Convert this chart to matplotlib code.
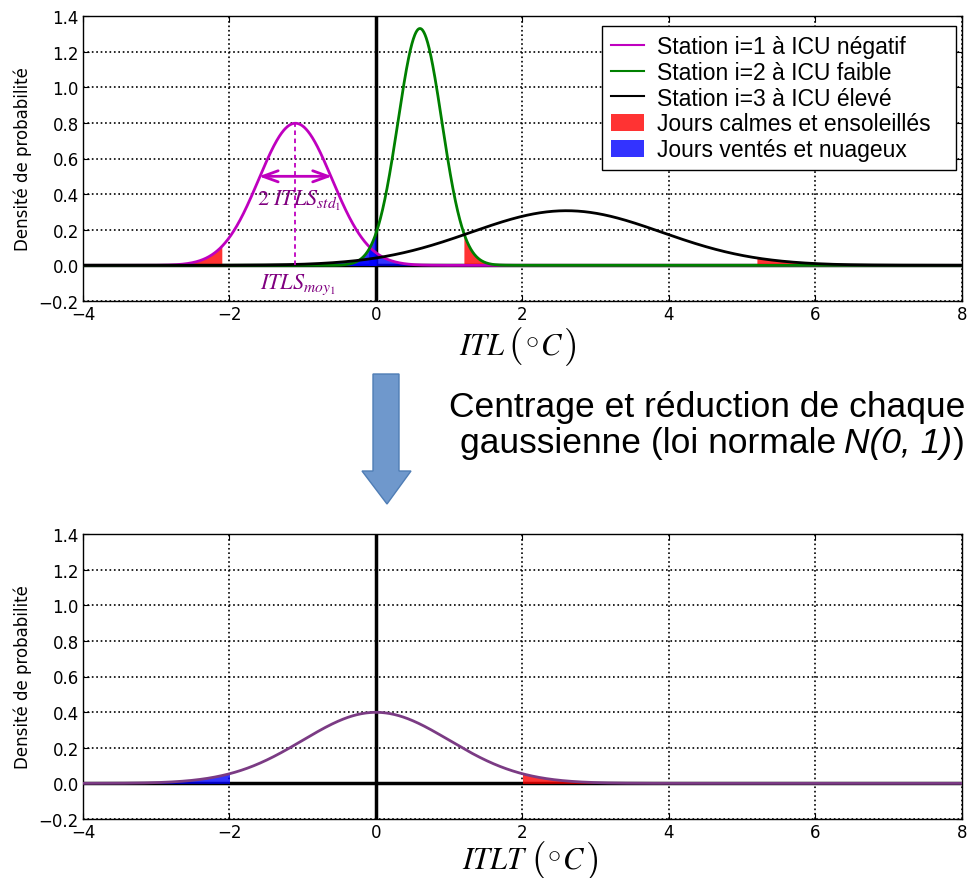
import numpy as np
import matplotlib
matplotlib.use("Agg")
import matplotlib.pyplot as plt
from matplotlib.patches import Polygon, Patch
from matplotlib.lines import Line2D
from matplotlib.font_manager import FontProperties
from matplotlib.transforms import IdentityTransform

# ---- data ----
station_labels = ["Station i=1 à ICU négatif", "Station i=2 à ICU faible", "Station i=3 à ICU élevé"]
station_colors = ["#bf00bf", "#008000", "#000000"]
means = [-1.1, 0.6, 2.6]
stds = [0.5, 0.3, 1.3]
fill_labels = ["Jours calmes et ensoleillés", "Jours ventés et nuageux"]
xticks = [-4, -2, 0, 2, 4, 6, 8]
yticks = [-0.2, 0.0, 0.2, 0.4, 0.6, 0.8, 1.0, 1.2, 1.4]
n_sigma = 2.0

W, H = 970, 879
fig = plt.figure(figsize=(W/100, H/100), dpi=100)
renderer = fig.canvas.get_renderer()

def px(x0, y0, x1, y1):
    return [x0/W, 1-y1/H, (x1-x0)/W, (y1-y0)/H]

def pdf(x, m, s):
    return np.exp(-0.5*((x-m)/s)**2)/(s*np.sqrt(2*np.pi))

def place_pieces(pieces, x0, y_base, align='left'):
    """pieces: list of (text, fontprops, dy_px, gap_before_px). Image pixels, top-left origin."""
    objs, widths = [], []
    for s, fp, dy, gap in pieces:
        t = fig.text(0, 0, s, transform=IdentityTransform(), ha='left', va='baseline',
                     fontproperties=fp)
        objs.append(t)
        widths.append(t.get_window_extent(renderer).width)
    total = sum(widths) + sum(p[3] for p in pieces)
    x = x0 if align == 'left' else x0 - total
    for (s, fp, dy, gap), t, w in zip(pieces, objs, widths):
        x += gap
        t.set_position((x, H - y_base + dy))
        x += w
    return objs

def style(ax):
    ax.set_xlim(-4, 8)
    ax.set_ylim(-0.2, 1.4)
    ax.set_xticks(xticks)
    ax.set_yticks(yticks)
    ax.set_xticklabels([f"{t:d}".replace("-", "\u2212") for t in xticks])
    ax.set_yticklabels([f"{t:.1f}".replace("-", "\u2212") for t in yticks])
    ax.tick_params(direction='in', top=True, right=True, labelsize=12, length=4, pad=3)
    ax.grid(True, linestyle=':', color='black', lw=1.2)
    ax.set_axisbelow(True)
    for sp in ax.spines.values():
        sp.set_color('black'); sp.set_linewidth(1)
    ax.set_ylabel("Densité de probabilité", fontsize=12, labelpad=5)
    ax.axhline(0, color='black', lw=2.5, zorder=2)
    ax.axvline(0, color='black', lw=2.5, zorder=2)

def xlabel_pieces(name, x_left, y_base):
    fp_it = FontProperties(size=22, math_fontfamily='stix')
    fp_par = FontProperties(size=27, math_fontfamily='cm')
    fp_deg = FontProperties(size=19, math_fontfamily='cm')
    place_pieces([
        (f"${name}$", fp_it, 0, 0),
        (r"$($", fp_par, -1, 3),
        (r"$\circ$", fp_deg, 8, 2),
        (r"$C$", fp_it, 0, 1),
        (r"$)$", fp_par, -1, 0),
    ], x_left, y_base)

x = np.linspace(-4, 8, 2401)

# ---- top axes ----
ax1 = fig.add_axes(px(83, 17, 962, 302))
style(ax1)
for m, s in zip(means, stds):
    y = pdf(x, m, s)
    if m < 0:
        red = x <= m - n_sigma*s
        blue = x >= m + n_sigma*s
    else:
        red = x >= m + n_sigma*s
        blue = x <= m - n_sigma*s
    ax1.fill_between(x, 0, y, where=red, color='red', alpha=0.8, lw=0, zorder=3)
    ax1.fill_between(x, 0, y, where=blue, color='blue', alpha=0.8, lw=0, zorder=3)
for m, s, c in zip(means, stds, station_colors):
    ax1.plot(x, pdf(x, m, s), color=c, lw=2, zorder=4)

# annotations for station 1
m1, s1 = means[0], stds[0]
ax1.plot([m1, m1], [0, pdf(m1, m1, s1)], color='#bf00bf', dashes=(2.5, 2), lw=1.3, zorder=4)
ax1.annotate('', xy=(m1 - s1, 0.5), xytext=(m1 + s1, 0.5),
             arrowprops=dict(arrowstyle='<->,head_length=1.1,head_width=0.4', color='#bf00bf', lw=2,
                             shrinkA=0, shrinkB=0), zorder=5)
ax1.text(m1 + 0.05, 0.34, r"$2\ ITLS_{std_1}$", color='#800080', ha='center', va='baseline',
         fontproperties=FontProperties(size=16, math_fontfamily='stix'), zorder=6)
ax1.text(m1 + 0.03, -0.125, r"$ITLS_{moy_1}$", color='#800080', ha='center', va='baseline',
         fontproperties=FontProperties(size=16, math_fontfamily='stix'), zorder=6)

handles = [Line2D([], [], color=c, lw=1.5) for c in station_colors] + \
          [Patch(facecolor='red', alpha=0.8, lw=0), Patch(facecolor='blue', alpha=0.8, lw=0)]
leg = ax1.legend(handles, station_labels + fill_labels, loc='upper left', mode='expand',
                 bbox_to_anchor=(602/W, 1-169/H, (956-602)/W, (169-27)/H),
                 bbox_transform=fig.transFigure,
                 prop=FontProperties(family='Liberation Sans', size=16.5),
                 fancybox=False, framealpha=1, edgecolor='black', borderpad=0.4,
                 labelspacing=0.12, handlelength=1.45, handleheight=0.75,
                 handletextpad=0.55, borderaxespad=0)
leg.get_frame().set_linewidth(1)
leg.set_zorder(10)
xlabel_pieces("ITL", 459, 355)

# ---- bottom axes ----
ax2 = fig.add_axes(px(83, 535, 962, 820))
style(ax2)
y0 = pdf(x, 0, 1)
ax2.fill_between(x, 0, y0, where=x <= -n_sigma, color='blue', alpha=0.8, lw=0, zorder=3)
ax2.fill_between(x, 0, y0, where=x >= n_sigma, color='red', alpha=0.8, lw=0, zorder=3)
ax2.plot(x, y0, color='#7b3b84', lw=2, zorder=4)
xlabel_pieces("ITLT", 462, 869)

# ---- middle arrow and text ----
arrow_px = [(373, 375), (399, 375), (399, 472), (411, 472), (387, 505), (362, 472), (373, 472)]
poly = Polygon([(a/W, 1-b/H) for a, b in arrow_px], closed=True, transform=fig.transFigure,
               facecolor='#6f98cc', edgecolor='#4f7db5', lw=1)
fig.add_artist(poly)
fp_reg = FontProperties(family='Liberation Sans', size=25.5)
fp_ital = FontProperties(family='Liberation Sans', style='italic', size=25.5)
place_pieces([("Centrage et réduction de chaque", fp_reg, 0, 0)], 965, 417, align='right')
place_pieces([("gaussienne (loi normale", fp_reg, 0, 0),
              ("N(0, 1)", fp_ital, 0, 8),
              (")", fp_reg, 0, 1)], 965, 453, align='right')

fig.savefig("out.png", dpi=100)
